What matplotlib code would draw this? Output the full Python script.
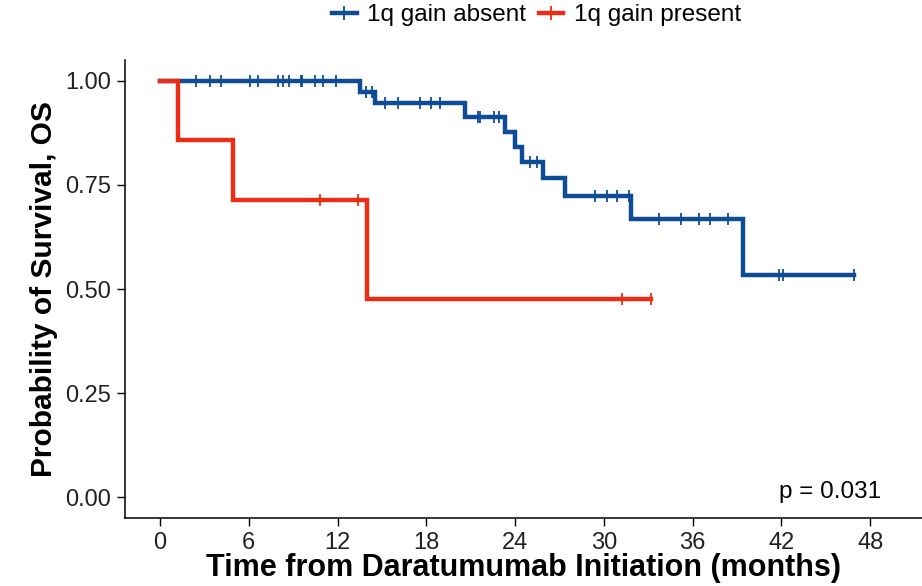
import numpy as np
import matplotlib.pyplot as plt
from matplotlib.lines import Line2D

plt.rcParams['font.family'] = ['Liberation Sans', 'DejaVu Sans']

# 1q gain absent: step times (months) and survival after each step
absent_t = [0, 13.5, 14.5, 20.6, 23.3, 24.0, 24.45, 25.9, 27.4, 31.8, 39.4, 46.9]
absent_s = [1.0, 0.974, 0.946, 0.914, 0.878, 0.842, 0.806, 0.766, 0.724, 0.668, 0.534, 0.534]
absent_cens = [2.4, 3.4, 4.1, 6.1, 6.6, 8.0, 8.3, 8.7, 9.5, 9.6, 10.5, 11.0, 11.9,
               13.9, 14.3, 15.2, 16.05, 17.6, 18.3, 18.9, 21.5, 21.65, 22.55, 22.9,
               25.0, 25.5, 29.4, 30.2, 30.9, 31.7, 33.7, 35.2, 36.45, 37.15, 38.4,
               41.85, 42.1, 46.9]
absent_cens_s = [1.0] * 13 + [0.974] * 2 + [0.946] * 5 + [0.914] * 4 + [0.806] * 2 \
    + [0.724] * 4 + [0.668] * 5 + [0.534] * 3

# 1q gain present
present_t = [0, 1.2, 4.9, 14.0, 33.2]
present_s = [1.0, 0.857, 0.714, 0.476, 0.476]
present_cens = [10.8, 13.4, 31.2, 33.2]
present_cens_s = [0.714, 0.714, 0.476, 0.476]

blue = '#0F4C96'
red = '#EC2D16'

fig = plt.figure(figsize=(9.22, 5.86), dpi=100)
ax = fig.add_axes([0.1356, 0.116, 0.8644, 0.7816])

ax.step(absent_t, absent_s, where='post', color=blue, lw=3.2, solid_joinstyle='miter')
ax.plot(absent_cens, absent_cens_s, ls='none', marker='|', ms=9, mew=1.3, color=blue)
ax.step(present_t, present_s, where='post', color=red, lw=3.2, solid_joinstyle='miter')
ax.plot(present_cens, present_cens_s, ls='none', marker='|', ms=9, mew=1.3, color=red)

ax.set_xlim(-2.37, 51.5)
ax.set_ylim(-0.05, 1.05)
ax.set_xticks(np.arange(0, 49, 6))
ax.set_yticks([0, 0.25, 0.5, 0.75, 1.0])
ax.set_yticklabels(['0.00', '0.25', '0.50', '0.75', '1.00'])
ax.tick_params(labelsize=17, length=6, width=1, colors='black', labelcolor='#222222', pad=4)
for s in ['top', 'right']:
    ax.spines[s].set_visible(False)
for s in ['left', 'bottom']:
    ax.spines[s].set_linewidth(1.1)

ax.set_xlabel('Time from Daratumumab Initiation (months)', fontsize=22, fontweight='bold', labelpad=-1)
ax.set_ylabel('Probability of Survival, OS', fontsize=21.5, fontweight='bold', labelpad=5)

ax.text(45.3, 0.012, 'p = 0.031', fontsize=17.5, ha='center', va='center')

handles = [Line2D([], [], color=blue, lw=3.2, marker='+', ms=10, mew=1.3),
           Line2D([], [], color=red, lw=3.2, marker='+', ms=10, mew=1.3)]
fig.legend(handles, ['1q gain absent', '1q gain present'], loc='center',
           bbox_to_anchor=(0.582, 0.974), ncol=2, frameon=False, fontsize=17.5,
           handlelength=1.0, handletextpad=0.45, columnspacing=0.5)

fig.savefig('out.png', dpi=100)
